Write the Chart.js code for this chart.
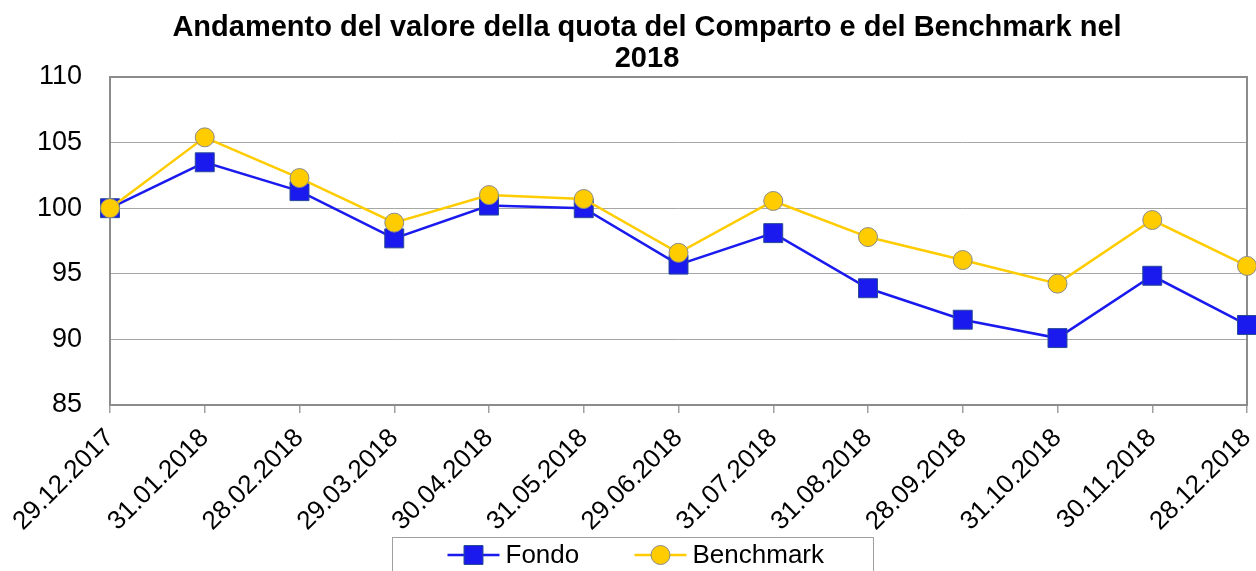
<!DOCTYPE html>
<html>
<head>
<meta charset="utf-8">
<script src="https://cdn.jsdelivr.net/npm/chart.js@4.4.1/dist/chart.umd.min.js"></script>
<style>
  html, body { margin: 0; padding: 0; background: #fff; }
  #wrap { width: 1256px; height: 571px; }
</style>
</head>
<body>
<div id="wrap"><canvas id="chart" width="1256" height="571"></canvas></div>
<script>
// data
const dates = ['29.12.2017', '31.01.2018', '28.02.2018', '29.03.2018', '30.04.2018', '31.05.2018',
  '29.06.2018', '31.07.2018', '31.08.2018', '28.09.2018', '31.10.2018', '30.11.2018', '28.12.2018'];
const fondo = [100, 103.5, 101.3, 97.7, 100.2, 100.0, 95.7, 98.1, 93.9, 91.5, 90.1, 94.85, 91.1];
const benchmark = [100, 105.4, 102.3, 98.9, 101.0, 100.7, 96.6, 100.55, 97.8, 96.05, 94.25, 99.1, 95.6];
const yTicks = [85, 90, 95, 100, 105, 110];
const titleLines = ['Andamento del valore della quota del Comparto e del Benchmark nel', '2018'];

const FONT = "'Liberation Sans', Arial, sans-serif";
const BLUE = '#1a1aee';
const GOLD = '#ffcc00';

// title drawn by hand: the original sits a bit right of the canvas centre
const chartTitle = {
  id: 'chartTitle',
  afterDraw(chart) {
    const { ctx } = chart;
    ctx.save();
    ctx.font = 'bold 29px ' + FONT;
    ctx.fillStyle = '#000';
    ctx.textAlign = 'center';
    ctx.textBaseline = 'middle';
    titleLines.forEach((t, i) => ctx.fillText(t, 647, 28 + i * 31));
    ctx.restore();
  }
};

// plot frame: full gray box round the chart area
const plotFrame = {
  id: 'plotFrame',
  beforeDatasetsDraw(chart) {
    const { ctx, chartArea: a } = chart;
    ctx.save();
    ctx.strokeStyle = '#8c8c8c';
    ctx.lineWidth = 2;
    ctx.strokeRect(a.left, a.top, a.right - a.left, a.bottom - a.top);
    ctx.restore();
  }
};

// legend box with line-through-marker samples, like the spreadsheet one
const boxLegend = {
  id: 'boxLegend',
  afterDraw(chart) {
    const { ctx } = chart;
    const left = 392.5, boxW = 481, boxTop = 537, boxH = 48;
    ctx.save();
    ctx.strokeStyle = '#a0a0a0';
    ctx.lineWidth = 1;
    ctx.strokeRect(left, boxTop + 0.5, boxW, boxH);
    const cy = 555;
    const items = [
      { ds: chart.data.datasets[0], x: left + 55 },
      { ds: chart.data.datasets[1], x: left + 242 }
    ];
    ctx.font = '26px ' + FONT;
    ctx.textBaseline = 'middle';
    items.forEach(it => {
      const ds = it.ds;
      ctx.strokeStyle = ds.borderColor;
      ctx.lineWidth = 2.5;
      ctx.beginPath();
      ctx.moveTo(it.x, cy);
      ctx.lineTo(it.x + 52, cy);
      ctx.stroke();
      ctx.fillStyle = ds.pointBackgroundColor;
      ctx.strokeStyle = ds.pointBorderColor;
      ctx.lineWidth = ds.pointBorderWidth;
      ctx.beginPath();
      if (ds.pointStyle === 'rect') {
        const s = Math.SQRT1_2 * ds.pointRadius;
        ctx.rect(it.x + 26 - s, cy - s, 2 * s, 2 * s);
      } else {
        ctx.arc(it.x + 26, cy, ds.pointRadius, 0, Math.PI * 2);
      }
      ctx.fill();
      ctx.stroke();
      ctx.fillStyle = '#000';
      ctx.textAlign = 'left';
      ctx.fillText(ds.label, it.x + 58, cy + 1);
    });
    ctx.restore();
  }
};

new Chart(document.getElementById('chart'), {
  type: 'line',
  data: {
    labels: dates,
    datasets: [
      {
        label: 'Fondo',
        data: fondo,
        order: 1,
        clip: false,
        borderColor: BLUE,
        borderWidth: 2.5,
        tension: 0,
        pointStyle: 'rect',
        pointRadius: 13.4,
        pointHoverRadius: 13.4,
        pointBackgroundColor: BLUE,
        pointBorderColor: '#284a96',
        pointBorderWidth: 1
      },
      {
        label: 'Benchmark',
        data: benchmark,
        order: 0,
        clip: false,
        borderColor: GOLD,
        borderWidth: 2.5,
        tension: 0,
        pointStyle: 'circle',
        pointRadius: 9.5,
        pointHoverRadius: 9.5,
        pointBackgroundColor: GOLD,
        pointBorderColor: '#8a8a8a',
        pointBorderWidth: 1
      }
    ]
  },
  options: {
    responsive: false,
    animation: false,
    layout: { autoPadding: false, padding: { left: 0, right: 9, top: 77, bottom: 0 } },
    plugins: {
      legend: { display: false },
      tooltip: { enabled: false },
      title: { display: false }
    },
    scales: {
      x: {
        offset: false,
        grid: { drawOnChartArea: false, drawTicks: true, tickLength: 8, color: '#a0a0a0', lineWidth: 1.5 },
        border: { display: false },
        ticks: {
          color: '#000',
          font: { family: FONT, size: 26 },
          minRotation: 45,
          maxRotation: 45,
          autoSkip: false,
          padding: 10
        },
        afterFit(scale) {
          scale.height = 166;
          scale.paddingLeft = 0;
          scale.paddingRight = 0;
        }
      },
      y: {
        min: yTicks[0],
        max: yTicks[yTicks.length - 1],
        grid: { color: '#a6a6a6', lineWidth: 1, drawTicks: false },
        border: { display: false },
        afterBuildTicks(scale) {
          scale.ticks = yTicks.map(v => ({ value: v }));
        },
        ticks: {
          color: '#000',
          font: { family: FONT, size: 27 },
          padding: 28
        },
        afterFit(scale) {
          scale.width = 110;
          scale.paddingTop = 0;
          scale.paddingBottom = 0;
        }
      }
    }
  },
  plugins: [plotFrame, boxLegend, chartTitle]
});
</script>
</body>
</html>
